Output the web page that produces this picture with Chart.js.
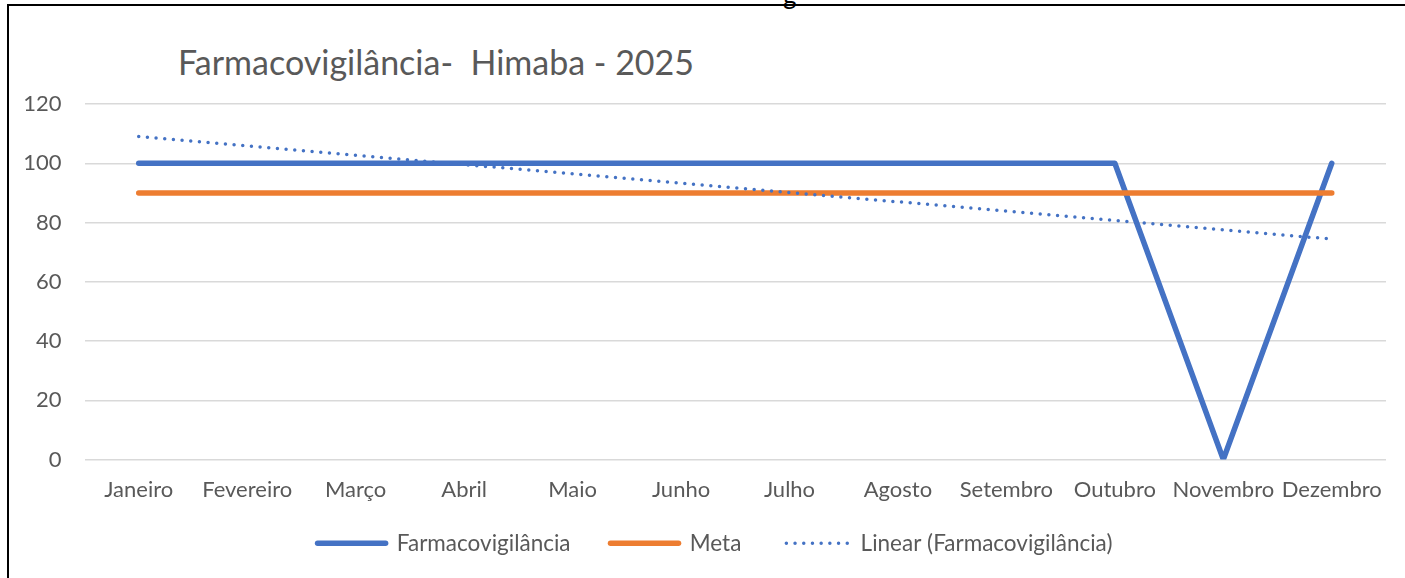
<!DOCTYPE html>
<html>
<head>
<meta charset="utf-8">
<script src="https://cdn.jsdelivr.net/npm/chart.js@4"></script>
<style>
  html, body { margin: 0; padding: 0; background: #fff; overflow: hidden; }
  #wrap { position: relative; width: 1405px; height: 578px; }
  #frame { position: absolute; left: 7px; top: 4px; width: 1500px; height: 700px; border: 2px solid #000; }
  #cut { position: absolute; left: 783px; top: -22px; font: 26px Lato, sans-serif; color: #000; }
  #title { position: absolute; left: 178px; top: 41px; font: 34px Lato, sans-serif; color: #595959; white-space: pre; }
  canvas { position: absolute; left: 0; top: 0; }
</style>
</head>
<body>
<div id="wrap">
  <div id="frame"></div>
  <div id="cut">g</div>
  <div id="title">Farmacovigilância-  Himaba - 2025</div>
  <canvas id="chart" width="1405" height="578"></canvas>
</div>
<script>
// Données du graphique
const meses = ['Janeiro', 'Fevereiro', 'Março', 'Abril', 'Maio', 'Junho', 'Julho', 'Agosto', 'Setembro', 'Outubro', 'Novembro', 'Dezembro'];
const farmacovigilancia = [100, 100, 100, 100, 100, 100, 100, 100, 100, 100, 0, 100];
const meta = [90, 90, 90, 90, 90, 90, 90, 90, 90, 90, 90, 90];
// tendance linéaire (début et fin)
const tendencia = [109, null, null, null, null, null, null, null, null, null, null, 74.4];
const yTicks = [0, 20, 40, 60, 80, 100, 120];

const corTexto = '#595959';
const fonte = 'Lato';

const ctx = document.getElementById('chart').getContext('2d');

// Repositionnement de la légende (comme dans Excel)
const legendShift = {
    id: 'legendShift',
    afterLayout(chart) {
        const lg = chart.legend;
        lg.left += 22;
        lg.right += 22;
        lg.top -= 12.5;
        lg.bottom -= 12.5;
    }
};

const chart = new Chart(ctx, {
    type: 'line',
    data: {
        labels: meses,
        datasets: [
            {
                label: 'Farmacovigilância',
                data: farmacovigilancia,
                borderColor: '#4472C4',
                backgroundColor: '#4472C4',
                borderWidth: 5.5,
                borderCapStyle: 'round',
                borderJoinStyle: 'round',
                pointRadius: 0,
                order: 2
            },
            {
                label: 'Meta',
                data: meta,
                borderColor: '#ED7D31',
                backgroundColor: '#ED7D31',
                borderWidth: 5.5,
                borderCapStyle: 'round',
                pointRadius: 0,
                order: 1
            },
            {
                label: 'Linear (Farmacovigilância)',
                data: tendencia,
                borderColor: '#4472C4',
                backgroundColor: '#4472C4',
                borderWidth: 3.5,
                borderCapStyle: 'round',
                borderDash: [0, 8.7],
                pointRadius: 0,
                spanGaps: true,
                order: 0
            }
        ]
    },
    options: {
        responsive: false,
        animation: false,
        layout: {
            padding: { top: 104, right: 19, bottom: 1, left: 0 }
        },
        scales: {
            x: {
                offset: true,
                grid: { display: false },
                border: { display: false },
                ticks: {
                    color: corTexto,
                    font: { family: fonte, size: 22 },
                    padding: 9,
                    maxRotation: 0,
                    autoSkip: false
                },
                afterFit: (scale) => { scale.height = 45; }
            },
            y: {
                min: 0,
                max: 120,
                afterBuildTicks: (scale) => { scale.ticks = yTicks.map(v => ({ value: v })); },
                grid: { color: '#D9D9D9', lineWidth: 1.5, drawTicks: false },
                border: { display: false },
                ticks: {
                    color: corTexto,
                    font: { family: fonte, size: 22 },
                    padding: 23
                },
                afterFit: (scale) => { scale.width = 84.5; }
            }
        },
        plugins: {
            title: { display: false },
            tooltip: { enabled: false },
            legend: {
                position: 'bottom',
                labels: {
                    usePointStyle: true,
                    pointStyle: 'line',
                    pointStyleWidth: 68,
                    color: corTexto,
                    font: { family: fonte, size: 22.5 },
                    padding: 40,
                    sort: (a, b) => a.datasetIndex - b.datasetIndex,
                    generateLabels: (chart) => {
                        const items = Chart.defaults.plugins.legend.labels.generateLabels(chart);
                        items.forEach(item => {
                            const ds = chart.data.datasets[item.datasetIndex];
                            item.strokeStyle = ds.borderColor;
                            item.lineWidth = ds.borderWidth;
                            item.lineCap = 'round';
                            item.lineDash = ds.borderDash || [];
                            item.lineDashOffset = ds.borderDash ? -5 : 0;
                        });
                        return items;
                    }
                }
            }
        }
    },
    plugins: [legendShift]
});
</script>
</body>
</html>
